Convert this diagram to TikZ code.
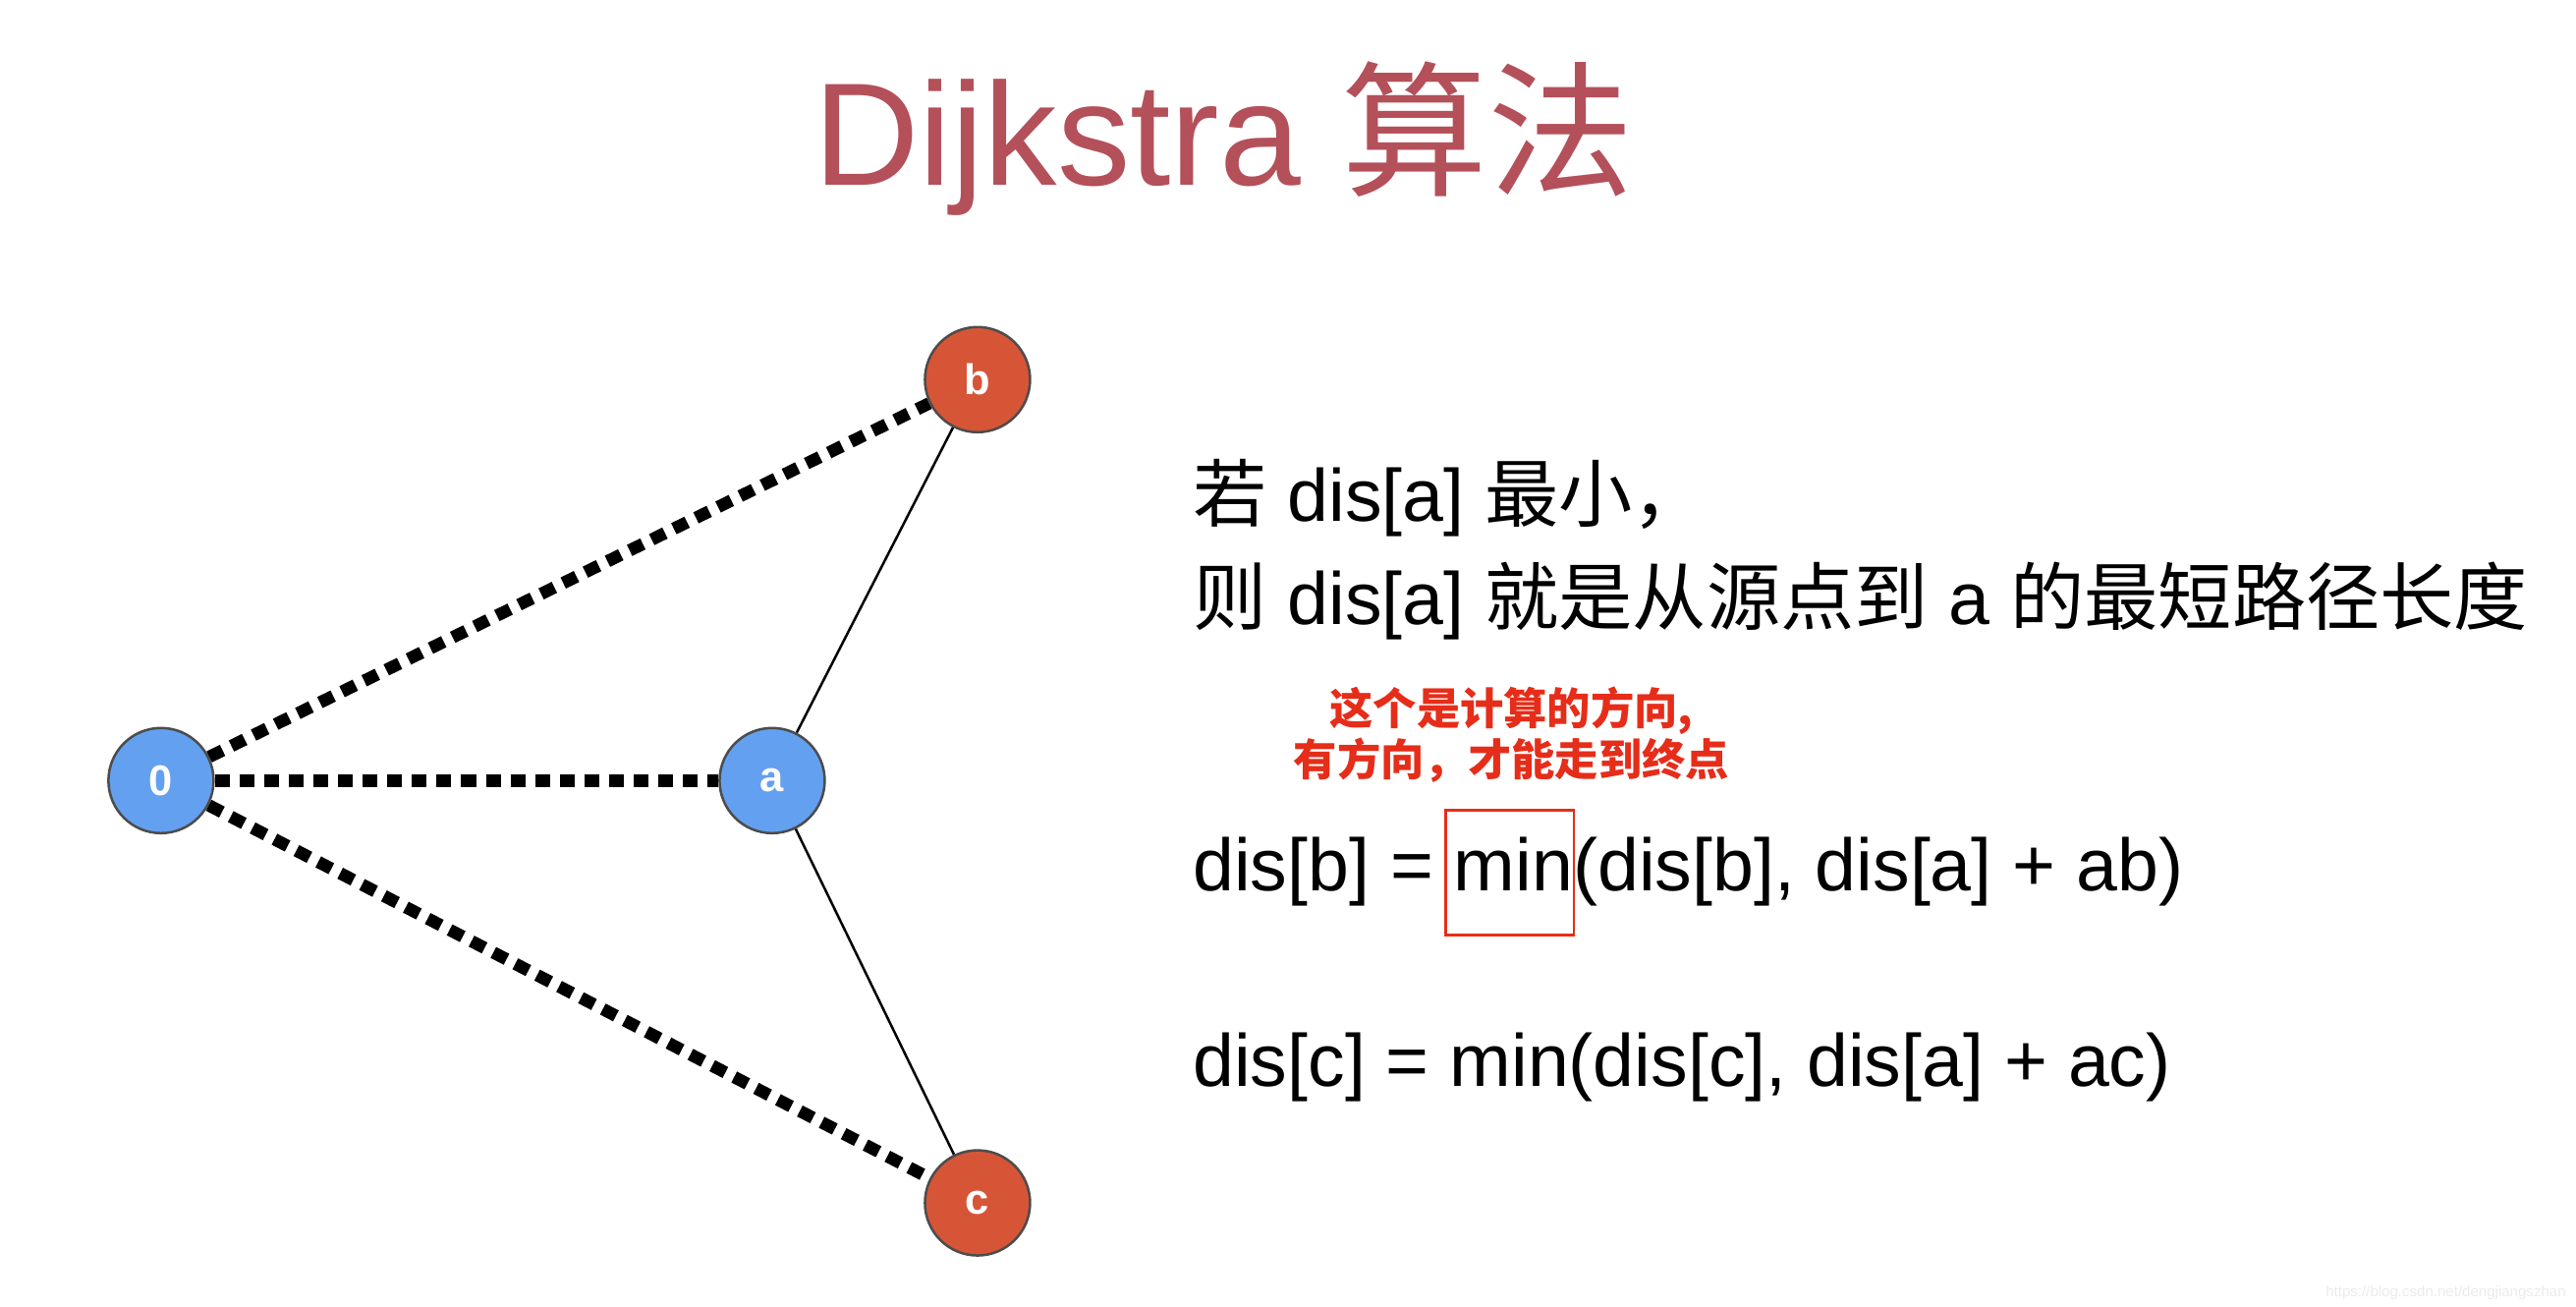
\documentclass[tikz,border=0pt]{standalone}
\usepackage{fontspec}
\setmainfont{Liberation Sans}
\newfontfamily\cjk{Noto Sans CJK SC}
\begin{document}
\begin{tikzpicture}[x=1pt,y=-1pt,
  vtx/.style={circle,draw=black!70,line width=1.5pt,minimum size=64pt,inner sep=0pt,text=white,font=\fontsize{26}{28}\selectfont\bfseries},
  blue/.style={fill={rgb,255:red,100;green,160;blue,240}},
  redv/.style={fill={rgb,255:red,215;green,85;blue,55}},
  dots/.style={line width=7.5pt,dash pattern=on 9pt off 6pt},
  body/.style={anchor=base west,inner sep=0pt,font=\fontsize{45}{50}\selectfont}]
\useasboundingbox (0,0) rectangle (1568,795);
\node[anchor=base,inner sep=0pt,text={rgb,255:red,180;green,80;blue,90},font=\fontsize{89}{94}\selectfont] (title) at (745,113) {Dijkstra {\cjk 算法}};
\node[vtx,blue] (n0) at (98,475) {0};
\node[vtx,blue] (a) at (470,475) {a};
\node[vtx,redv] (b) at (595,231) {b};
\node[vtx,redv] (c) at (595,732) {c};
\draw[dots] (n0) -- (b);
\draw[dots] (n0) -- (a);
\draw[dots] (n0) -- (c);
\draw[line width=1.5pt] (a) -- (b);
\draw[line width=1.5pt] (a) -- (c);
\node[body] (t1) at (726,317) {{\cjk 若} dis[a] {\cjk 最小，}};
\node[body] (t2) at (726,380) {{\cjk 则} dis[a] {\cjk 就是从源点到} a {\cjk 的最短路径长度}};
\node[inner sep=0pt,text={rgb,255:red,230;green,45;blue,25},font=\fontsize{26.5}{31}\selectfont\cjk\bfseries,align=center] (note) at (920,447) {这个是计算的方向,\\有方向，才能走到终点};
\node[body] (t3) at (726,542) {dis[b] = min(dis[b], dis[a] + ab)};
\node[body] (t4) at (726,661) {dis[c] = min(dis[c], dis[a] + ac)};
\draw[draw={rgb,255:red,230;green,45;blue,25},line width=1.5pt] (880,493) rectangle (958,569);
\node[anchor=base east,inner sep=0pt,text=black!8,font=\fontsize{9}{10}\selectfont] (wm) at (1562,789) {https://blog.csdn.net/dengjiangszhan};
\end{tikzpicture}
\end{document}
